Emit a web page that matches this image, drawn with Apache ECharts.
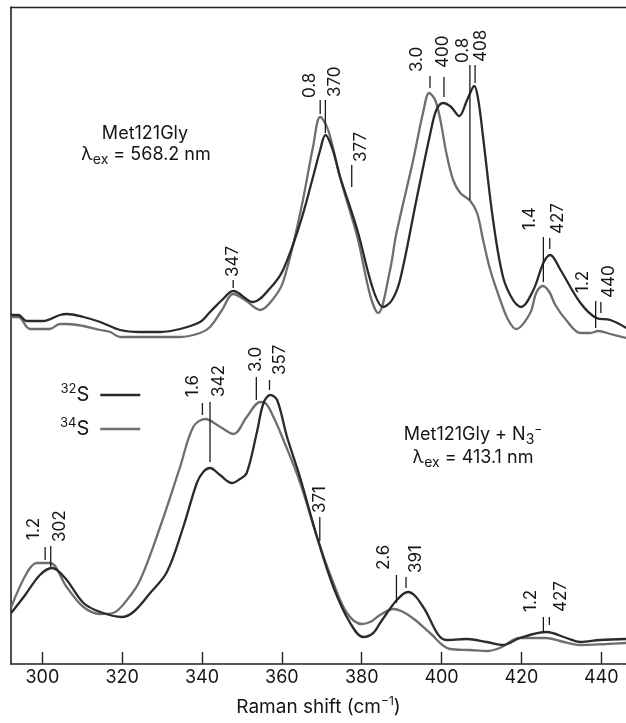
<!DOCTYPE html>
<html>
<head>
<meta charset="utf-8">
<title>Met121Gly resonance Raman</title>
<script src="https://cdn.jsdelivr.net/npm/echarts@6/dist/echarts.min.js"></script>
<style>
  html, body { margin: 0; padding: 0; background: #fff; }
  #chart { width: 626px; height: 723px; }
</style>
</head>
<body>
<div id="chart"></div>
<script>
// [Raman shift (cm-1), intensity (arb. units)]
const top32S = [
  [292.2, 34.9], [294.0, 34.9], [296.1, 34.3], [300.2, 34.3], [304.4, 34.9], [306.1, 35.0],
  [310.3, 34.7], [314.5, 34.2], [319.5, 33.4], [324.5, 33.2], [329.5, 33.2], [334.5, 33.5],
  [339.5, 34.2], [342.0, 35.2], [345.0, 36.4], [347.8, 37.3], [352.8, 36.2], [357.1, 37.6],
  [360.3, 39.4], [364.6, 44.1], [367.8, 48.7], [369.6, 51.4], [370.9, 52.9], [372.6, 51.6],
  [374.6, 48.7], [378.9, 43.4], [382.9, 37.4], [385.4, 35.7], [387.6, 36.4], [389.6, 38.4],
  [393.7, 46.4], [397.2, 53.1], [398.7, 55.4], [400.4, 56.1], [402.4, 55.7], [404.4, 54.8],
  [406.4, 56.4], [408.2, 57.8], [409.2, 56.4], [410.4, 52.7], [412.9, 44.4], [415.4, 38.7],
  [417.9, 36.4], [419.9, 35.7], [423.0, 37.4], [425.5, 40.1], [427.2, 40.9], [429.8, 39.4],
  [434.8, 36.1], [438.8, 34.6], [442.3, 34.4], [446.3, 33.6]
];
const top34S = [
  [292.2, 34.7], [294.0, 34.7], [296.1, 33.7], [296.9, 33.5], [301.9, 33.5], [304.4, 34.0],
  [306.1, 34.0], [310.3, 33.8], [314.5, 33.4], [317.0, 33.2], [319.5, 32.7], [327.0, 32.7],
  [334.5, 32.7], [339.5, 33.1], [342.0, 33.7], [345.0, 35.4], [347.8, 37.0], [350.8, 36.4],
  [354.6, 35.4], [357.6, 36.4], [360.3, 38.2], [364.6, 45.1], [367.8, 51.7], [369.6, 54.7],
  [371.6, 53.4], [374.6, 48.6], [378.9, 42.7], [382.1, 36.9], [384.1, 35.1], [387.1, 39.4],
  [388.6, 42.9], [392.9, 50.4], [395.4, 55.2], [396.9, 57.1], [398.4, 56.4], [399.7, 54.4],
  [401.2, 51.1], [402.9, 48.4], [404.7, 47.1], [407.2, 46.3], [408.9, 45.1], [410.4, 42.4],
  [412.2, 39.4], [414.7, 36.4], [416.7, 34.4], [418.7, 33.5], [422.2, 35.1], [423.7, 37.1],
  [425.4, 37.8], [427.0, 37.2], [428.5, 35.9], [431.2, 34.4], [434.8, 33.1], [437.2, 33.1],
  [439.3, 33.3], [442.3, 33.0], [446.3, 32.6]
];
const bottom32S = [
  [292.2, 5.1], [295.7, 6.9], [299.4, 8.9], [302.4, 9.6], [305.7, 8.6], [310.3, 6.1],
  [314.5, 5.2], [319.9, 4.7], [322.8, 5.2], [327.0, 7.1], [331.2, 9.2], [335.3, 13.7],
  [338.7, 18.1], [340.3, 19.2], [342.0, 19.6], [344.5, 18.9], [347.5, 18.1], [349.5, 18.5],
  [351.2, 19.1], [353.7, 23.1], [355.4, 26.1], [357.1, 26.9], [358.8, 26.4], [361.3, 22.7],
  [364.6, 18.6], [368.8, 12.7], [372.9, 7.7], [377.1, 4.1], [380.4, 2.7], [382.9, 3.1],
  [384.6, 4.1], [388.8, 6.4], [391.6, 7.2], [393.4, 6.8], [395.4, 5.7], [401.2, 2.4],
  [406.3, 2.5], [411.3, 2.2], [415.5, 1.9], [419.6, 2.6], [426.3, 3.2], [431.3, 2.6],
  [434.7, 2.2], [439.8, 2.4], [446.3, 2.5]
];
const bottom34S = [
  [292.2, 5.7], [296.1, 9.1], [298.6, 10.1], [301.9, 10.1], [306.1, 7.7], [310.3, 5.7],
  [314.5, 5.0], [317.7, 5.1], [321.2, 6.4], [324.5, 8.4], [329.5, 13.7], [334.5, 19.7],
  [337.8, 23.7], [340.8, 24.5], [344.6, 23.7], [347.9, 23.0], [351.2, 24.7], [354.6, 26.2],
  [356.1, 26.0], [357.9, 24.7], [360.4, 22.4], [364.6, 18.1], [368.8, 12.7], [372.9, 8.1],
  [376.3, 5.1], [380.0, 4.0], [382.1, 4.2], [384.6, 4.9], [387.9, 5.5], [390.4, 5.2],
  [393.4, 4.4], [397.1, 3.1], [402.1, 1.5], [407.1, 1.4], [411.3, 1.3], [414.6, 1.6],
  [419.6, 2.6], [426.3, 2.6], [429.7, 2.3], [434.7, 1.9], [441.3, 2.0], [446.3, 2.1]
];

const xTicks = [300, 320, 340, 360, 380, 400, 420, 440];

// peak labels: text, tick position / extent, label anchor (bottom of rotated text)
const annoText    = ['347', '0.8', '370', '377', '3.0', '400', '0.8', '408', '1.4', '427', '1.2', '440',
                     '1.2', '302', '1.6', '342', '3.0', '357', '371', '2.6', '391', '1.2', '427'];
const annoX       = [347.8, 369.6, 370.9, 377.5, 397.1, 400.6, 407.1, 408.4, 425.5, 427.1, 438.6, 439.9,
                     300.7, 302.1, 340.1, 342.0, 353.6, 356.9, 369.5, 388.7, 391.1, 425.5, 427.0];
const annoTop     = [38.4, 56.4, 56.4, 49.9, 58.8, 58.7, 59.9, 59.9, 42.7, 42.6, 36.3, 36.2,
                     11.7, 11.8, 26.1, 26.2, 28.7, 28.4, 14.7, 8.9, 8.7, 4.7, 4.7];
const annoBottom  = [37.6, 55.0, 53.1, 47.7, 57.6, 56.7, 46.4, 58.1, 38.2, 41.5, 33.6, 35.1,
                     10.4, 9.7, 24.9, 20.2, 26.4, 27.4, 12.3, 6.1, 7.6, 3.2, 3.9];
const annoLabelX  = [347.8, 367.0, 373.3, 379.7, 393.9, 400.4, 405.4, 409.9, 422.2, 429.1, 435.5, 441.9,
                     298.0, 304.3, 337.6, 344.2, 353.4, 359.4, 369.5, 385.5, 393.5, 422.3, 429.9];
const annoLabelY  = [38.7, 56.6, 56.7, 50.2, 59.2, 59.6, 60.1, 60.2, 43.4, 43.0, 37.1, 36.6,
                     12.4, 12.2, 26.7, 26.7, 29.2, 28.9, 15.1, 9.4, 9.1, 5.2, 5.2];

const FONT = 'Inter, "Liberation Sans", Arial, sans-serif';
const DARK = '#2a2a2a';
const GRAY = '#6e6e6e';
const INK = '#151515';

const chart = echarts.init(document.getElementById('chart'));

const titleRich = {
  l: { fontSize: 18, lineHeight: 24, color: INK, fontFamily: FONT, fontWeight: 'normal' },
  sub: { fontSize: 14, verticalAlign: 'bottom', color: INK, fontFamily: FONT, fontWeight: 'normal' },
  sup: { fontSize: 12, verticalAlign: 'top', color: INK, fontFamily: FONT, fontWeight: 'normal' }
};

function spectrum (name, data, color, z) {
  return {
    name: name,
    type: 'line',
    data: data,
    symbol: 'none',
    smooth: 0.35,
    z: z,
    lineStyle: { color: color, width: 2.3 },
    itemStyle: { color: color },
    animation: false
  };
}

function titleLine (text, x, y) {
  return {
    text: text,
    left: x,
    top: y,
    textAlign: 'center',
    padding: 0,
    textStyle: { fontWeight: 'normal', rich: titleRich }
  };
}

chart.setOption({
  animation: false,
  textStyle: { fontFamily: FONT },
  grid: { left: 11, right: 0, top: 7, bottom: 59, outerBoundsMode: 'none' },
  title: [
    titleLine('{l|Met121Gly}', 145, 122),
    titleLine('{l|λ}{sub|ex}{l| = 568.2 nm}', 146, 143),
    titleLine('{l|Met121Gly + N}{sub|3}{sup|−}', 473, 423),
    titleLine('{l|λ}{sub|ex}{l| = 413.1 nm}', 473, 446)
  ],
  legend: {
    data: ['32S', '34S'],
    orient: 'vertical',
    left: 55,
    top: 378,
    align: 'right',
    icon: 'rect',
    itemWidth: 40,
    itemHeight: 2.4,
    itemGap: 12,
    selectedMode: false,
    formatter: function (name) {
      return '{sup|' + name.slice(0, 2) + '}{s|S}';
    },
    textStyle: {
      rich: {
        sup: { fontSize: 13, verticalAlign: 'top', color: INK, fontFamily: FONT },
        s: { fontSize: 20, lineHeight: 24, color: INK, fontFamily: FONT, padding: [0, 6, 0, 0] }
      }
    }
  },
  xAxis: [{
    type: 'value',
    position: 'bottom',
    min: 292.15,
    max: 446.2,
    axisLine: { lineStyle: { color: '#222', width: 1.6 } },
    axisTick: { inside: true, length: 12, customValues: xTicks, lineStyle: { color: '#222', width: 1.4 } },
    axisLabel: { customValues: xTicks, fontSize: 18, color: INK, margin: 5, fontFamily: FONT },
    splitLine: { show: false },
    name: 'Raman shift (cm{sup|−1})',
    nameLocation: 'middle',
    nameGap: 31,
    nameTextStyle: {
      fontSize: 19, lineHeight: 24, color: INK, fontFamily: FONT,
      rich: { sup: { fontSize: 12, verticalAlign: 'top', color: INK, fontFamily: FONT } }
    }
  }, {
    type: 'value',
    position: 'top',
    min: 292.15,
    max: 446.2,
    axisLine: { lineStyle: { color: '#222', width: 1.4 } },
    axisTick: { show: false },
    axisLabel: { show: false },
    splitLine: { show: false }
  }],
  yAxis: {
    type: 'value',
    min: 0,
    max: 65.7,
    axisLine: { show: true, lineStyle: { color: '#222', width: 1.6 } },
    axisTick: { show: false },
    axisLabel: { show: false },
    splitLine: { show: false }
  },
  series: [
    spectrum('34S', top34S, GRAY, 2),
    spectrum('32S', top32S, DARK, 3),
    spectrum('34S', bottom34S, GRAY, 2),
    spectrum('32S', bottom32S, DARK, 3),
    {
      name: 'annotations',
      type: 'custom',
      z: 5,
      animation: false,
      data: annoX.map(function (x, i) {
        return [x, annoTop[i], annoBottom[i], annoLabelX[i], annoLabelY[i]];
      }),
      encode: { x: [0, 3], y: [1, 2, 4] },
      renderItem: function (params, api) {
        const i = params.dataIndex;
        const a = api.coord([api.value(0), api.value(1)]);
        const b = api.coord([api.value(0), api.value(2)]);
        const t = api.coord([api.value(3), api.value(4)]);
        return {
          type: 'group',
          children: [{
            type: 'line',
            shape: { x1: a[0], y1: a[1], x2: b[0], y2: b[1] },
            style: { stroke: '#1a1a1a', lineWidth: 1.3 }
          }, {
            type: 'text',
            x: t[0],
            y: t[1],
            rotation: Math.PI / 2,
            style: {
              text: annoText[i],
              font: '17px ' + FONT,
              fill: INK,
              align: 'left',
              verticalAlign: 'middle'
            }
          }]
        };
      }
    }
  ]
});
</script>
</body>
</html>
